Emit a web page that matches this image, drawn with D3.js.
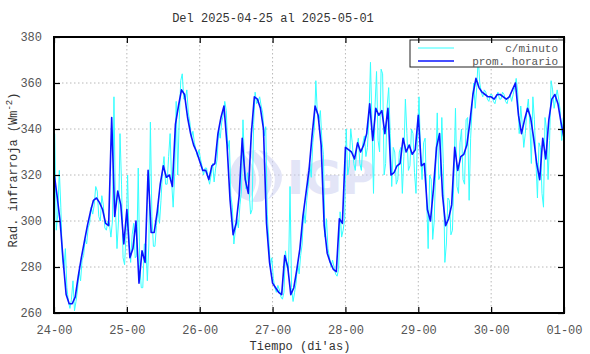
<!DOCTYPE html>
<html>
<head>
<meta charset="utf-8">
<script src="https://cdn.jsdelivr.net/npm/d3@7"></script>
<style>
  body { margin: 0; background: #fff; }
  text { font-family: "Liberation Mono", "DejaVu Sans Mono", monospace; }
</style>
</head>
<body>
<svg id="chart" width="590" height="354"></svg>
<script>
// rango de fechas (UTC) y rotulos
var titulo = "Del 2025-04-25 al 2025-05-01";
var fechaIni = "2025-04-24T00:00:00Z";
var yTicks = [260, 280, 300, 320, 340, 360, 380];

// promedio horario, Wm-2, una lectura por hora desde 24-00 hasta 01-00
var promHorario = [
  321, 311, 300, 283, 268, 264, 264, 267, 276, 284, 291, 298, 304, 309, 310, 308, 305, 299, 298, 345, 302, 313, 307, 290,
  305, 284, 288, 300, 273, 287, 282, 322, 295, 295, 304, 316, 324, 319, 320, 315, 342, 350, 357, 355, 345, 338, 333, 330,
  326, 322, 322, 318, 324, 325, 338, 345, 350, 333, 309, 294, 299, 311, 336, 318, 312, 338, 354, 353, 349, 340, 299, 282,
  273, 271, 269, 268, 285, 280, 268, 271, 279, 288, 302, 312, 322, 337, 350, 346, 333, 298, 286, 282, 279, 278, 301, 299,
  332, 331, 330, 327, 334, 330, 333, 338, 351, 335, 349, 346, 348, 338, 349, 320, 321, 324, 325, 336, 330, 333, 329, 331,
  346, 324, 325, 305, 300, 314, 332, 338, 311, 298, 301, 307, 332, 322, 328, 329, 333, 343, 355, 362, 358, 356, 355, 354,
  354, 353, 355, 355, 354, 353, 354, 357, 360, 346, 338, 344, 349, 345, 336, 325, 318, 336, 327, 344, 353, 355, 351, 343,
  336
];

var minutoMax = [
  338, 322, 306, 288, 271, 266, 274, 270, 278, 285, 292, 299, 306, 315, 313, 311, 307, 300, 299, 354, 305, 338, 316, 295,
  320, 294, 299, 323, 281, 290, 290, 343, 302, 298, 307, 322, 328, 328, 338, 320, 352, 361, 364, 357, 347, 339, 334, 331,
  327, 323, 323, 320, 325, 327, 340, 346, 352, 335, 311, 296, 301, 313, 344, 321, 314, 342, 356, 354, 350, 341, 303, 284,
  275, 272, 270, 269, 287, 315, 271, 273, 282, 290, 305, 315, 325, 340, 361, 348, 335, 301, 288, 283, 280, 279, 304, 301,
  340, 340, 334, 332, 336, 334, 337, 345, 369, 350, 365, 366, 364, 350, 358, 332, 330, 330, 332, 353, 338, 340, 338, 338,
  354, 334, 336, 320, 318, 324, 347, 345, 325, 310, 309, 320, 349, 334, 340, 344, 345, 350, 360, 371, 360, 357, 356, 355,
  355, 354, 356, 356, 355, 354, 355, 358, 362, 350, 342, 348, 353, 354, 344, 334, 332, 345, 340, 361, 357, 357, 353, 345
];
var minutoMin = [
  296, 303, 284, 279, 265, 262, 261, 265, 274, 283, 290, 297, 303, 307, 302, 300, 297, 296, 293, 300, 288, 300, 284, 281,
  290, 282, 284, 285, 271, 271, 274, 290, 289, 289, 299, 309, 316, 316, 317, 306, 320, 344, 353, 353, 343, 336, 331, 328,
  324, 320, 319, 316, 317, 323, 336, 343, 348, 331, 306, 290, 297, 307, 325, 314, 303, 305, 351, 352, 347, 337, 292, 280,
  271, 269, 267, 266, 281, 278, 265, 269, 277, 285, 299, 309, 319, 334, 347, 343, 329, 293, 284, 280, 277, 276, 293, 296,
  320, 324, 325, 322, 325, 322, 328, 332, 342, 312, 335, 330, 320, 325, 338, 315, 316, 318, 312, 328, 322, 324, 321, 312,
  328, 318, 310, 288, 292, 300, 318, 320, 282, 290, 294, 296, 315, 312, 318, 316, 309, 336, 349, 358, 356, 354, 353, 352,
  352, 351, 353, 353, 352, 351, 352, 355, 356, 338, 332, 338, 342, 325, 326, 310, 312, 306, 318, 335, 349, 353, 348, 335
];

var svg = d3.select("#chart");
var margin = {top: 37, right: 26, bottom: 41, left: 54},
    width = 590 - margin.left - margin.right,
    height = 354 - margin.top - margin.bottom;

var t0 = new Date(fechaIni);
var hora = function (h) { return new Date(t0.getTime() + h * 3600 * 1000); };

var x = d3.scaleUtc()
    .domain([t0, hora(168)])
    .range([0, width]);
var y = d3.scaleLinear()
    .domain([260, 380])
    .range([height, 0]);

var g = svg.append("g")
    .attr("transform", "translate(" + margin.left + "," + margin.top + ")");

// rejilla punteada
var xTicks = d3.utcDay.range(t0, hora(169));
g.append("g").selectAll("line").data(xTicks).enter().append("line")
    .attr("x1", function (d) { return x(d); })
    .attr("x2", function (d) { return x(d); })
    .attr("y1", 0).attr("y2", height)
    .attr("stroke", "#b8b8b8").attr("stroke-dasharray", "1.5,2.5");
g.append("g").selectAll("line").data(yTicks).enter().append("line")
    .attr("y1", function (d) { return y(d); })
    .attr("y2", function (d) { return y(d); })
    .attr("x1", 0).attr("x2", width)
    .attr("stroke", "#b8b8b8").attr("stroke-dasharray", "1.5,2.5");

// marca de agua
var wm = g.append("g").attr("opacity", 0.5);
wm.append("circle").attr("cx", 202).attr("cy", 139).attr("r", 26).attr("fill", "#c9ccf0");
wm.append("path")
    .attr("d", "M190,115 Q214,139 196,164 M202,113 Q232,139 210,165 M214,116 Q242,139 222,162")
    .attr("fill", "none").attr("stroke", "#fff").attr("stroke-width", 3);
wm.append("text").attr("x", 233).attr("y", 157)
    .style("font-family", "'DejaVu Sans', sans-serif")
    .style("font-weight", "bold").style("font-size", "46px")
    .attr("fill", "#c9ccf0").text("IGP");

// c/minuto
var puntos = [];
minutoMax.forEach(function (v, h) {
  if (h % 2 === 0) {
    puntos.push([hora(h + 0.25), v]);
    puntos.push([hora(h + 0.75), minutoMin[h]]);
  } else {
    puntos.push([hora(h + 0.25), minutoMin[h]]);
    puntos.push([hora(h + 0.75), v]);
  }
});
var linea = d3.line()
    .x(function (d) { return x(d[0]); })
    .y(function (d) { return y(d[1]); });

g.append("path").datum(puntos)
    .attr("d", linea)
    .attr("fill", "none").attr("stroke", "#33ffff").attr("stroke-width", 1);

// promedio horario
g.append("path").datum(promHorario.map(function (v, h) { return [hora(h), v]; }))
    .attr("d", linea)
    .attr("fill", "none").attr("stroke", "#0a14ff").attr("stroke-width", 1.6)
    .attr("stroke-linejoin", "round");

// leyenda
var lg = g.append("g").attr("transform", "translate(" + (width - 154) + ",3)");
lg.append("rect").attr("width", 154).attr("height", 27)
    .attr("fill", "#fff").attr("stroke", "#222").attr("stroke-width", 1);
lg.append("line").attr("x1", 8).attr("x2", 44).attr("y1", 8).attr("y2", 8)
    .attr("stroke", "#33ffff").attr("stroke-width", 1);
lg.append("line").attr("x1", 8).attr("x2", 44).attr("y1", 21).attr("y2", 21)
    .attr("stroke", "#0a14ff").attr("stroke-width", 1.6);
lg.append("text").attr("x", 148).attr("y", 12).attr("text-anchor", "end")
    .style("font-size", "11px").attr("fill", "#555").text("c/minuto");
lg.append("text").attr("x", 148).attr("y", 25).attr("text-anchor", "end")
    .style("font-size", "11px").attr("fill", "#555").text("prom. horario");

// ejes
var fmt = d3.utcFormat("%d-%H");
g.append("g").attr("transform", "translate(0," + height + ")")
    .call(d3.axisBottom(x).tickValues(xTicks).tickFormat(fmt).tickSizeInner(-6).tickSizeOuter(0).tickPadding(12));
g.append("g").call(d3.axisTop(x).tickValues(xTicks).tickFormat("").tickSizeInner(-6).tickSizeOuter(0));
g.append("g")
    .call(d3.axisLeft(y).tickValues(yTicks).tickSizeInner(-6).tickSizeOuter(0).tickPadding(12));
g.append("g").attr("transform", "translate(" + width + ",0)")
    .call(d3.axisRight(y).tickValues(yTicks).tickFormat("").tickSizeInner(-6).tickSizeOuter(0));

g.selectAll(".domain").remove();
g.selectAll(".tick line").attr("stroke", "#000").attr("stroke-width", 1.2);
g.selectAll(".tick text").style("font-family", "'Liberation Mono', monospace")
    .style("font-size", "12px").attr("fill", "#555");

// marco
g.append("rect").attr("width", width).attr("height", height)
    .attr("fill", "none").attr("stroke", "#000").attr("stroke-width", 2);

// titulos
svg.append("text").attr("x", 273).attr("y", 22).attr("text-anchor", "middle")
    .style("font-size", "12px").attr("fill", "#333").text(titulo);
svg.append("text").attr("x", 300).attr("y", 350).attr("text-anchor", "middle")
    .style("font-size", "12px").attr("fill", "#333").text("Tiempo (di'as)");
var yl = svg.append("text")
    .attr("transform", "translate(17,170) rotate(-90)")
    .attr("text-anchor", "middle")
    .style("font-size", "12px").attr("fill", "#333");
yl.append("tspan").text("Rad. infrarroja (Wm");
yl.append("tspan").attr("dy", -5).style("font-size", "9px").text("-2");
yl.append("tspan").attr("dy", 5).text(")");
</script>
</body>
</html>
